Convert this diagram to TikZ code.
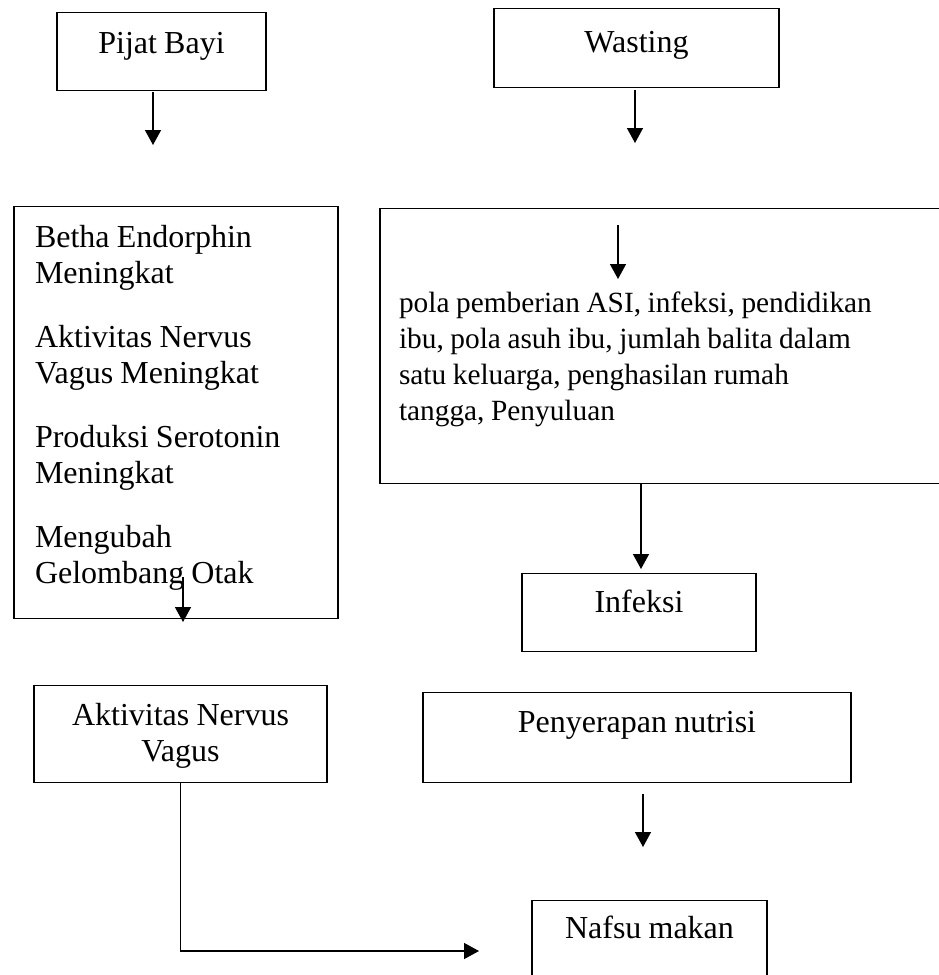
\documentclass[tikz,border=0pt]{standalone}
\usepackage{fontspec}
\setmainfont[WordSpace=0.9]{Liberation Serif}
\usetikzlibrary{shapes,arrows,calc,arrows.meta}
\frenchspacing

\begin{document}
\begin{tikzpicture}[x=0.375pt,y=-0.375pt,
    font=\fontsize{12pt}{13.5pt}\selectfont,
    kotak/.style={draw,line width=0.5pt,rectangle,inner ysep=0pt,anchor=north},
    panah/.style={-{Triangle[width=6pt,length=5.6pt]},line width=0.45pt}]
  \useasboundingbox (0,0) rectangle (939,975);
  % kolom kiri
  \draw (161.5,12) node[kotak,minimum width=78.4pt,text height=15.4pt,text depth=13.9pt] (pijat) {Pijat Bayi};
  \draw (176,206) node[kotak,inner xsep=7.9pt,text width=105.75pt,align=flush left,text height=15.4pt,text depth=139.1pt] (efek)
    {Betha Endorphin\\ Meningkat\\[10.5pt] Aktivitas Nervus\\ Vagus Meningkat\\[10.5pt] Produksi Serotonin\\ Meningkat\\[10.5pt] Mengubah\\ Gelombang Otak};
  \draw (180.5,685) node[kotak,inner xsep=0pt,text width=109.9pt,align=flush center,text height=15pt,text depth=21.4pt] (vagus)
    {Aktivitas Nervus\\ Vagus};
  % kolom kanan
  \draw (636.5,8) node[kotak,minimum width=106.9pt,text height=16.5pt,text depth=13.1pt] (wasting) {Wasting};
  \draw (662.5,208) node[kotak,inner xsep=7.1pt,text width=197.6pt,align=flush left,text height=39pt,text depth=64.1pt,
      font=\fontsize{11pt}{13.5pt}\selectfont] (faktor)
    {pola pemberian ASI, infeksi, pendidikan\\ ibu, pola asuh ibu, jumlah balita dalam\\ satu keluarga, penghasilan rumah\\ tangga, Penyuluan};
  \draw (639,573) node[kotak,minimum width=87.75pt,text height=14.6pt,text depth=14.6pt] (infeksi) {Infeksi};
  \draw (637,692) node[kotak,minimum width=160.5pt,text height=15pt,text depth=18.75pt] (serap) {Penyerapan nutrisi};
  \draw (649.5,900) node[kotak,minimum width=88.1pt,text height=14.25pt,text depth=20pt] (nafsu) {Nafsu makan};
  % ujung panah
  \coordinate (a1) at (153,92);  \coordinate (b1) at (153,145);
  \coordinate (a2) at (635,90);  \coordinate (b2) at (635,143);
  \coordinate (a3) at (618,225); \coordinate (b3) at (618,279);
  \coordinate (a4) at (183,577); \coordinate (b4) at (183,622);
  \coordinate (b5) at (641,569);
  \coordinate (a6) at (643,794); \coordinate (b6) at (643,847);
  \coordinate (b7) at (479,951);
  \path[panah] (a1) edge (b1)
               (a2) edge (b2)
               (a3) edge (b3)
               (a4) edge (b4)
               (faktor.south -| b5) edge (b5)
               (a6) edge (b6);
  \draw[panah] (vagus.south) |- (b7);
\end{tikzpicture}
\end{document}
